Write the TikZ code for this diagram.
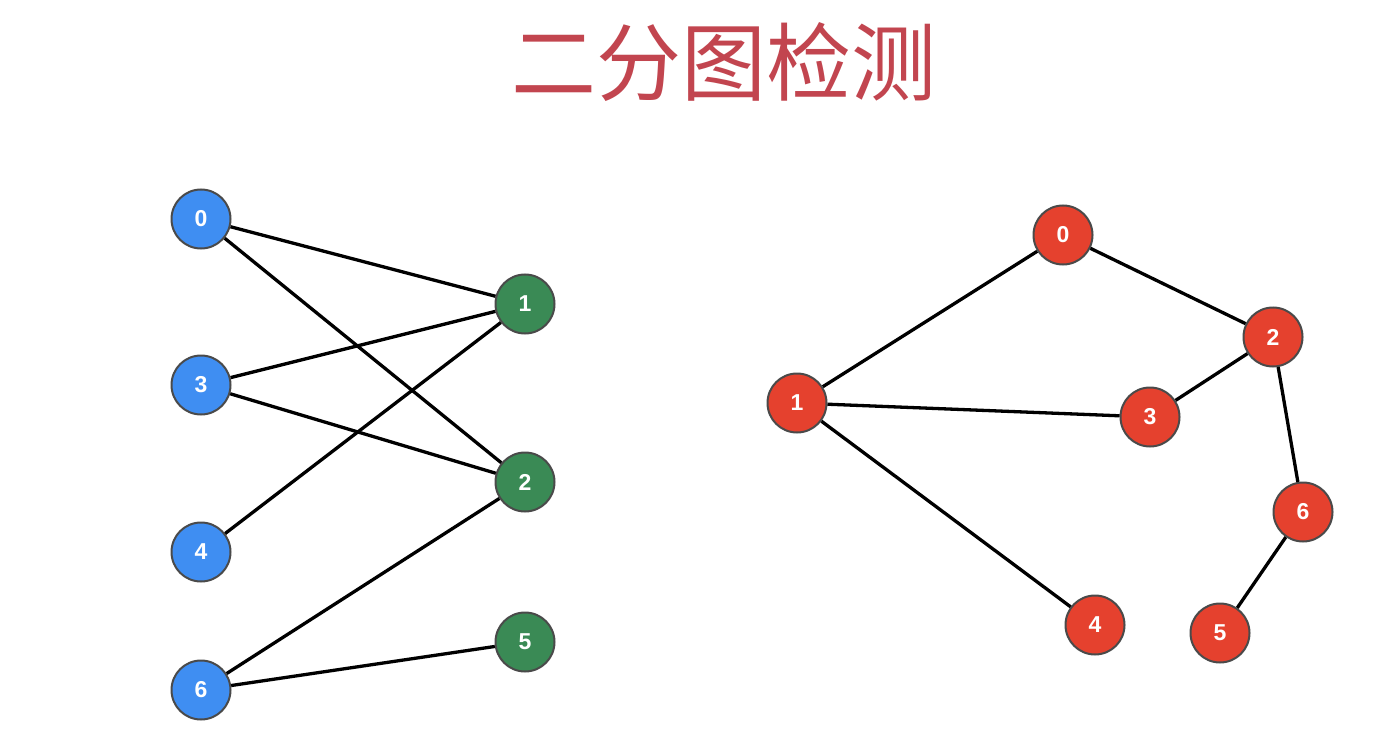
\documentclass[tikz,border=0pt]{standalone}
\usepackage{fontspec}
\setmainfont{Liberation Sans}
\newfontfamily\cjk{Noto Sans CJK SC}
\definecolor{nblue}{HTML}{3F8EF2}
\definecolor{ngreen}{HTML}{3A8A55}
\definecolor{nred}{HTML}{E5412E}
\definecolor{ttl}{HTML}{C2454F}
\definecolor{ring}{HTML}{4A4A4A}
\tikzset{
  vtx/.style={circle, minimum size=59pt, inner sep=0pt, draw=ring, line width=2pt,
     text=white, font=\fontsize{23}{23}\selectfont\bfseries},
  bv/.style={vtx, fill=nblue},
  gv/.style={vtx, fill=ngreen},
  rv/.style={vtx, fill=nred},
  edge/.style={black, line width=3.3pt}
}
\begin{document}
\begin{tikzpicture}[x=1pt,y=-1pt]
\useasboundingbox[fill=white] (0,0) rectangle (1388,743);
\node[text=ttl, font=\cjk\fontsize{85}{85}\selectfont] (title) at (724,62) {二分图检测};
% left graph
\node[bv] (L0) at (201,219) {0};
\node[bv] (L3) at (201,385) {3};
\node[bv] (L4) at (201,552) {4};
\node[bv] (L6) at (201,690) {6};
\node[gv] (L1) at (525,304) {1};
\node[gv] (L2) at (525,482) {2};
\node[gv] (L5) at (525,642) {5};
% right graph
\node[rv] (R0) at (1063,235) {0};
\node[rv] (R1) at (797,403) {1};
\node[rv] (R2) at (1273,337) {2};
\node[rv] (R3) at (1150,417) {3};
\node[rv] (R4) at (1095,625) {4};
\node[rv] (R6) at (1303,512) {6};
\node[rv] (R5) at (1220,633) {5};
\draw[edge] (L0) -- (L1);
\draw[edge] (L0) -- (L2);
\draw[edge] (L3) -- (L1);
\draw[edge] (L3) -- (L2);
\draw[edge] (L4) -- (L1);
\draw[edge] (L6) -- (L2);
\draw[edge] (L6) -- (L5);
\draw[edge] (R1) -- (R0);
\draw[edge] (R0) -- (R2);
\draw[edge] (R2) -- (R3);
\draw[edge] (R1) -- (R3);
\draw[edge] (R1) -- (R4);
\draw[edge] (R2) -- (R6);
\draw[edge] (R6) -- (R5);
\end{tikzpicture}
\end{document}
